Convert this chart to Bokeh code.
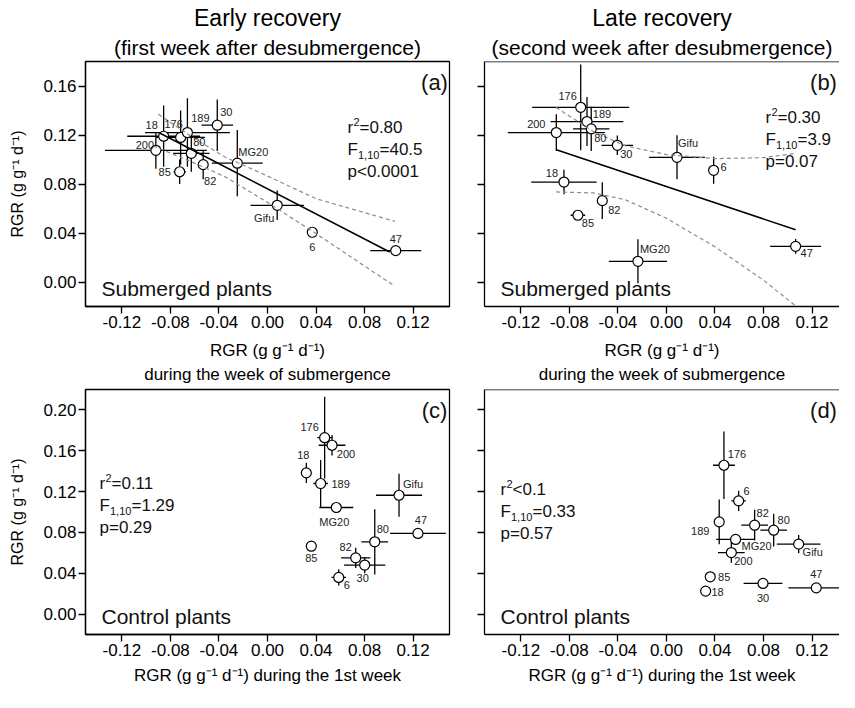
import numpy as np
from bokeh.plotting import figure
from bokeh.models import (ColumnDataSource, FixedTicker, PrintfTickFormatter, Title,
                          Label, LabelSet, Range1d, Span, CustomJSTickFormatter)
from bokeh.layouts import column, row
from bokeh.embed import file_html
from bokeh.resources import INLINE
from bokeh.core.properties import value

FONT = "Liberation Sans"

# ---------------- data ----------------
genotypes = ["18", "176", "189", "30", "200", "80", "85", "82", "MG20", "Gifu", "6", "47"]

x_ticks = [-0.12, -0.08, -0.04, 0.00, 0.04, 0.08, 0.12]
y_ticks_top = [0.00, 0.04, 0.08, 0.12, 0.16]
y_ticks_bottom = [0.00, 0.04, 0.08, 0.12, 0.16, 0.20]

# (a) early recovery, submerged plants
a_x = [-0.0856, -0.0716, -0.0660, -0.0414, -0.0920, -0.0628, -0.0724, -0.0530, -0.0249, 0.0080, 0.0369, 0.1057]
a_y = [0.1190, 0.1180, 0.1220, 0.1280, 0.1075, 0.1050, 0.0900, 0.0958, 0.0970, 0.0626, 0.0406, 0.0256]
a_xerr = [0.030, 0.020, 0.035, 0.013, 0.042, 0.015, 0.005, 0.004, 0.021, 0.022, 0.000, 0.021]
a_yerr = [0.025, 0.022, 0.028, 0.021, 0.015, 0.015, 0.010, 0.012, 0.027, 0.012, 0.000, 0.003]
a_reg_x = [-0.0889, 0.1007]
a_reg_y = [0.1216, 0.0245]
a_up_x = [-0.090, -0.060, -0.035, 0.000, 0.040, 0.105]
a_up_y = [0.1370, 0.1170, 0.1020, 0.0865, 0.0680, 0.0495]
a_lo_x = [-0.094, -0.060, -0.035, 0.000, 0.040, 0.105]
a_lo_y = [0.1110, 0.0970, 0.0860, 0.0650, 0.0395, -0.0035]

# (b) late recovery, submerged plants
b_x = [-0.0845, -0.0707, -0.0655, -0.0405, -0.0908, -0.0620, -0.0730, -0.0529, -0.0235, 0.0087, 0.0389, 0.1065]
b_y = [0.0816, 0.1426, 0.1310, 0.1116, 0.1220, 0.1250, 0.0545, 0.0664, 0.0169, 0.1018, 0.0912, 0.0291]
b_xerr = [0.027, 0.040, 0.030, 0.013, 0.040, 0.015, 0.006, 0.004, 0.024, 0.023, 0.000, 0.021]
b_yerr = [0.010, 0.035, 0.020, 0.008, 0.015, 0.018, 0.002, 0.015, 0.018, 0.018, 0.011, 0.006]
b_reg_x = [-0.0908, 0.1065]
b_reg_y = [0.1080, 0.0427]
b_up_x = [-0.091, -0.060, -0.034, 0.000, 0.040, 0.080, 0.106]
b_up_y = [0.1425, 0.1227, 0.1112, 0.1040, 0.1007, 0.1015, 0.1049]
b_lo_x = [-0.091, -0.060, -0.034, 0.000, 0.040, 0.080, 0.106]
b_lo_y = [0.0735, 0.0727, 0.0672, 0.0520, 0.0287, 0.0015, -0.0191]

# (c) early recovery, control plants
c_x = [0.0320, 0.0471, 0.0438, 0.0801, 0.0532, 0.0884, 0.0361, 0.0727, 0.0567, 0.1084, 0.0587, 0.1240]
c_y = [0.1383, 0.1728, 0.1279, 0.0480, 0.1654, 0.0708, 0.0665, 0.0551, 0.1044, 0.1164, 0.0359, 0.0790]
c_xerr = [0.000, 0.006, 0.006, 0.017, 0.011, 0.011, 0.000, 0.012, 0.014, 0.019, 0.006, 0.023]
c_yerr = [0.010, 0.040, 0.023, 0.008, 0.010, 0.032, 0.000, 0.010, 0.000, 0.021, 0.008, 0.000]

# (d) late recovery, control plants
d_x = [0.0323, 0.0474, 0.0435, 0.0796, 0.0535, 0.0884, 0.0361, 0.0727, 0.0570, 0.1090, 0.0595, 0.1235]
d_y = [0.0225, 0.1458, 0.0903, 0.0300, 0.0603, 0.0822, 0.0365, 0.0871, 0.0731, 0.0685, 0.1109, 0.0257]
d_xerr = [0.000, 0.009, 0.000, 0.016, 0.011, 0.011, 0.000, 0.011, 0.016, 0.018, 0.006, 0.023]
d_yerr = [0.000, 0.033, 0.022, 0.000, 0.010, 0.016, 0.000, 0.015, 0.004, 0.009, 0.010, 0.000]

stat_r2 = ["=0.80", "=0.30", "=0.11", "<0.1"]
stat_f = ["=40.5", "=3.9", "=1.29", "=0.33"]
stat_p = ["<0.0001", "=0.07", "=0.29", "=0.57"]
panel_tags = ["(a)", "(b)", "(c)", "(d)"]
panel_groups = ["Submerged plants", "Submerged plants", "Control plants", "Control plants"]

# ---------------- layout (screen offsets of point labels: dx right, dy down) ----------------
a_lab = [(-12, -11), (-7, -13), (13, -15), (9, -13), (-11, -5), (8, -11), (-15, 0), (7, 16), (16, -11), (-13, 13), (0, 15), (0, -12)]
b_lab = [(-12, -9), (-13, -11), (15, -8), (9, 9), (-20, -9), (9, 9), (10, 8), (12, 9), (17, -12), (11, -14), (10, -3), (11, 7)]
c_lab = [(-3, -18), (-15, -11), (20, 0), (-2, 13), (14, 9), (8, -13), (0, 12), (-10, -11), (-2, 14), (14, -11), (8, 8), (3, -13)]
d_lab = [(12, 1), (13, -11), (-19, 9), (0, 15), (12, 8), (10, -10), (14, 0), (8, -12), (21, 7), (14, 8), (8, -10), (0, -14)]

LW = 1.3


def text_at(p, txt, fx, fy, size, align="left", baseline="middle", color="#111111"):
    p.add_layout(Label(x=p.x_range.start, y=p.y_range.end, x_units="data", y_units="data",
                       x_offset=fx, y_offset=-fy, text=txt, text_font=FONT,
                       text_font_size=f"{size}px", text_align=align,
                       text_baseline=baseline, text_color=color))


def panel(idx, xs, ys, xe, ye, labs, yr, yt, width, height, mbl, mbr, mbt, mbb, xend,
          left_side, top_row, stat_pos, tag_fx):
    p = figure(width=width, height=height, x_range=Range1d(-0.15, xend),
               y_range=Range1d(yr[0], yr[1]), output_backend="svg",
               toolbar_location=None, title=None,
               min_border_left=mbl, min_border_right=mbr,
               min_border_top=mbt, min_border_bottom=mbb)
    p.grid.visible = False
    p.background_fill_color = "white"
    p.border_fill_color = "white"
    if left_side:
        p.outline_line_color = "black"
        p.outline_line_width = LW
    else:
        p.outline_line_color = None
        p.add_layout(Span(location=yr[1], dimension="width", line_color="black", line_width=LW))

    for ax in (p.xaxis[0], p.yaxis[0]):
        ax.axis_line_color = "black"
        ax.axis_line_width = LW
        ax.major_tick_line_color = "black"
        ax.major_tick_line_width = LW
        ax.major_tick_out = 7
        ax.major_tick_in = 0
        ax.minor_tick_line_color = None
        ax.major_label_text_font = FONT
        ax.major_label_text_font_size = "17px"
        ax.major_label_text_color = "black"
        ax.major_label_standoff = 2
        ax.formatter = PrintfTickFormatter(format="%.2f")
        ax.axis_label_text_font = FONT
        ax.axis_label_text_font_style = "normal"
        ax.axis_label_text_font_size = "17px"
        ax.axis_label_text_color = "black"
    p.xaxis.ticker = FixedTicker(ticks=x_ticks)
    p.yaxis.ticker = FixedTicker(ticks=yt)
    if left_side:
        p.yaxis.axis_label = "RGR (g g\u207b\u00b9 d\u207b\u00b9)"
        p.yaxis.axis_label_standoff = 14
        p.yaxis.axis_label_text_font_size = "16px"
    else:
        p.yaxis.formatter = CustomJSTickFormatter(code="return ''")

    if top_row:
        p.xaxis.axis_label = "RGR (g g\u207b\u00b9 d\u207b\u00b9)"
        p.xaxis.axis_label_standoff = 10
        p.add_layout(Title(text="during the week of submergence", align="center",
                           text_font=FONT, text_font_size="17px",
                           text_font_style="normal", text_color="black", standoff=0), "below")
    else:
        p.xaxis.axis_label = "RGR (g g\u207b\u00b9 d\u207b\u00b9) during the 1st week"
        p.xaxis.axis_label_standoff = 7

    xs = np.array(xs); ys = np.array(ys); xe = np.array(xe); ye = np.array(ye)
    src = ColumnDataSource(dict(x=xs, y=ys, x0=xs - xe, x1=xs + xe, y0=ys - ye, y1=ys + ye,
                                name=genotypes,
                                dx=[o[0] for o in labs], dy=[-o[1] for o in labs]))
    p.segment(x0="x0", x1="x1", y0="y", y1="y", source=src, line_color="black", line_width=LW)
    p.segment(x0="x", x1="x", y0="y0", y1="y1", source=src, line_color="black", line_width=LW)
    p.scatter(x="x", y="y", source=src, marker="circle", size=10, fill_color="white",
              line_color="black", line_width=1.2)
    p.add_layout(LabelSet(x="x", y="y", text="name", x_offset="dx", y_offset="dy", source=src,
                          text_font=value(FONT), text_font_size=value("11px"),
                          text_align=value("center"), text_baseline=value("middle"),
                          text_color=value("#222222")))

    # panel texts
    fx, fy = stat_pos
    ls = 22
    text_at(p, "r", fx, fy, 17)
    text_at(p, "2", fx + 6, fy - 6, 11)
    text_at(p, stat_r2[idx], fx + 12, fy, 17)
    text_at(p, "F", fx, fy + ls, 17)
    text_at(p, "1,10", fx + 10.5, fy + ls + 5, 11)
    text_at(p, stat_f[idx], fx + 32, fy + ls, 17)
    text_at(p, "p" + stat_p[idx], fx, fy + 2 * ls, 17)
    text_at(p, panel_tags[idx], tag_fx, 21, 22, align="center")
    text_at(p, panel_groups[idx], 16, 227, 21)
    return p


W1, W2 = 470, 369
H1, H2 = 386, 306
top_range = (-0.02, 0.18)
bot_range = (-0.02, 0.22)
right_end = -0.15 + 355 / 1213

pa = panel(0, a_x, a_y, a_xerr, a_yerr, a_lab, top_range, y_ticks_top, W1, H1, 85, 21, 61, 80,
           0.15, True, True, (262, 66), 349)
pa.line(a_reg_x, a_reg_y, line_color="black", line_width=1.5)
pa.line(a_up_x, a_up_y, line_color="#8c8c8c", line_width=1.2, line_dash="4 3")
pa.line(a_lo_x, a_lo_y, line_color="#8c8c8c", line_width=1.2, line_dash="4 3")

pb = panel(1, b_x, b_y, b_xerr, b_yerr, b_lab, top_range, y_ticks_top, W2, H1, 14, 0, 61, 80,
           right_end, False, True, (281, 56), 339)
pb.line(b_reg_x, b_reg_y, line_color="black", line_width=1.5)
pb.line(b_up_x, b_up_y, line_color="#8c8c8c", line_width=1.2, line_dash="4 3")
pb.line(b_lo_x, b_lo_y, line_color="#8c8c8c", line_width=1.2, line_dash="4 3")

pc = panel(2, c_x, c_y, c_xerr, c_yerr, c_lab, bot_range, y_ticks_bottom, W1, H2, 85, 21, 3, 58,
           0.15, True, False, (14, 94), 349)
pd = panel(3, d_x, d_y, d_xerr, d_yerr, d_lab, bot_range, y_ticks_bottom, W2, H2, 14, 0, 3, 58,
           right_end, False, False, (16, 100), 339)

for p, t1, t2 in ((pa, "Early recovery", "(first week after desubmergence)"),
                  (pb, "Late recovery", "(second week after desubmergence)")):
    p.add_layout(Title(text=t2, align="center", text_font=FONT, text_font_size="21px",
                       text_font_style="normal", text_color="black", standoff=5), "above")
    p.add_layout(Title(text=t1, align="center", text_font=FONT, text_font_size="23px",
                       text_font_style="normal", text_color="black", standoff=2), "above")

layout = column(row(pa, pb), row(pc, pd))
open("out.html", "w").write(file_html(layout, INLINE))
